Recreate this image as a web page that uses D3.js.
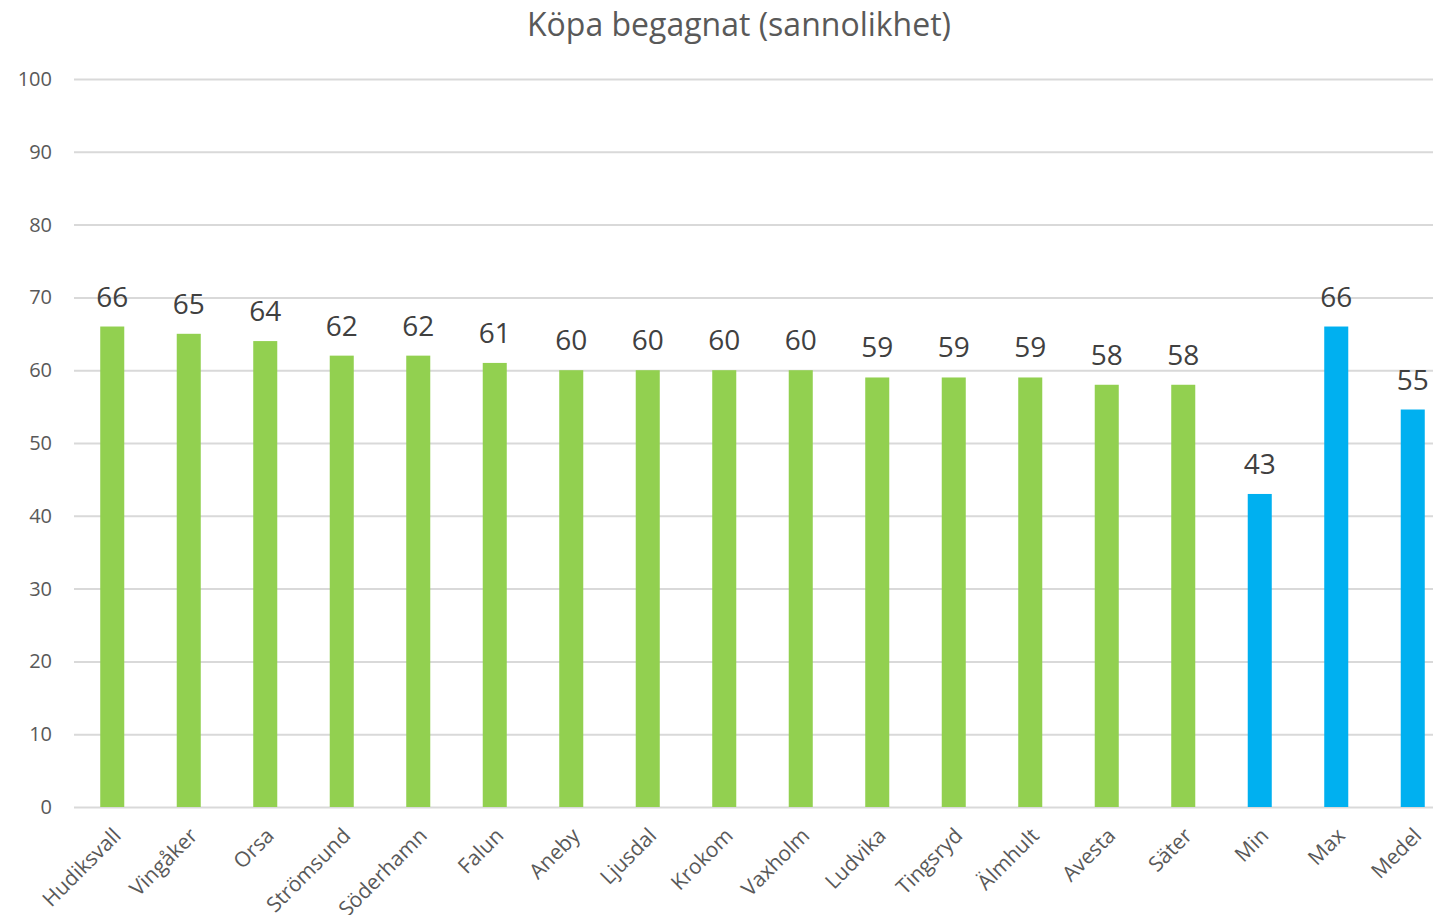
<!DOCTYPE html>
<html lang="sv">
<head>
    <meta charset="UTF-8">
    <title>Köpa begagnat (sannolikhet)</title>
    <script src="https://d3js.org/d3.v7.min.js"></script>
    <style>
        body { margin: 0; background: #fff; font-family: "Open Sans", sans-serif; }
        .grid line { stroke: #d9d9d9; stroke-width: 2; }
        .grid .domain { display: none; }
        .tick text { fill: #595959; font-family: "Open Sans", sans-serif; }
    </style>
</head>
<body>
    <svg id="chart" width="1433" height="915"></svg>

    <script>
        // data
        const categories = ["Hudiksvall", "Vingåker", "Orsa", "Strömsund", "Söderhamn", "Falun", "Aneby",
            "Ljusdal", "Krokom", "Vaxholm", "Ludvika", "Tingsryd", "Älmhult", "Avesta", "Säter",
            "Min", "Max", "Medel"];
        const values = [66, 65, 64, 62, 62, 61, 60, 60, 60, 60, 59, 59, 59, 58, 58, 43, 66, 54.6];
        const summaryCategories = ["Min", "Max", "Medel"];
        const yTicks = [0, 10, 20, 30, 40, 50, 60, 70, 80, 90, 100];

        const svg = d3.select("#chart");

        let x = d3.scaleBand()
            .domain(categories)
            .range([74, 1451])
            .paddingInner(0.686)
            .paddingOuter(0.343);

        let y = d3.scaleLinear()
            .domain([0, 100])
            .range([807, 79]);

        // title
        svg.append("text")
            .attr("x", 739)
            .attr("y", 36)
            .attr("text-anchor", "middle")
            .style("font-size", "32px")
            .style("fill", "#595959")
            .text("Köpa begagnat (sannolikhet)");

        // gridlines
        svg.append("g")
            .attr("class", "grid")
            .attr("transform", "translate(74,0)")
            .call(d3.axisLeft(y).tickValues(yTicks).tickSize(-1433).tickFormat(""));

        // y axis labels
        let yAxis = svg.append("g")
            .attr("transform", "translate(62,0)")
            .call(d3.axisLeft(y).tickValues(yTicks).tickSize(0).tickPadding(10));
        yAxis.select(".domain").remove();
        yAxis.selectAll("text").style("font-size", "20px");

        // bars
        svg.selectAll(".bar")
            .data(categories)
            .enter()
            .append("rect")
            .attr("class", "bar")
            .attr("x", d => x(d))
            .attr("y", (d, i) => y(values[i]))
            .attr("width", x.bandwidth())
            .attr("height", (d, i) => y(0) - y(values[i]))
            .attr("fill", d => summaryCategories.includes(d) ? "#00b0f0" : "#92d050");

        // value labels
        svg.selectAll(".value-label")
            .data(categories)
            .enter()
            .append("text")
            .attr("class", "value-label")
            .attr("x", d => x(d) + x.bandwidth() / 2)
            .attr("y", (d, i) => y(values[i]) - 20)
            .attr("text-anchor", "middle")
            .style("font-size", "28px")
            .style("fill", "#404040")
            .text((d, i) => Math.round(values[i]));

        // x axis
        let xAxis = svg.append("g")
            .attr("transform", "translate(0,807)")
            .call(d3.axisBottom(x).tickSize(0).tickPadding(0));
        xAxis.select(".domain").remove();
        xAxis.selectAll("text")
            .style("font-size", "21px")
            .attr("text-anchor", "end")
            .attr("dy", "0")
            .attr("transform", "translate(10,30) rotate(-45)");
    </script>
</body>
</html>
